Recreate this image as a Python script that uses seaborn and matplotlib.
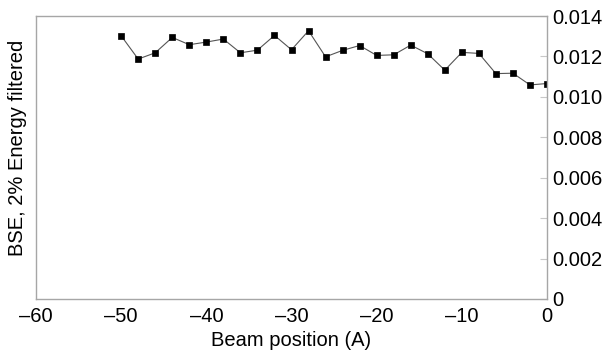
import numpy as np
import pandas as pd
import matplotlib
matplotlib.use("Agg")
import matplotlib.pyplot as plt
import seaborn as sns

# beam positions (A) and filtered BSE signal
positions = [-50, -48, -46, -44, -42, -40, -38, -36, -34, -32, -30, -28, -26,
             -24, -22, -20, -18, -16, -14, -12, -10, -8, -6, -4, -2, 0]
bse = [0.01302, 0.01187, 0.01218, 0.01294, 0.01258, 0.01271, 0.01286,
       0.01218, 0.01231, 0.01304, 0.01233, 0.01327, 0.01198, 0.01230,
       0.01254, 0.01205, 0.01208, 0.01256, 0.01213, 0.01132, 0.01220,
       0.01215, 0.01115, 0.01117, 0.01059, 0.01066]
x_ticks = [-60, -50, -40, -30, -20, -10, 0]
y_ticks = [0, 0.002, 0.004, 0.006, 0.008, 0.010, 0.012, 0.014]
y_labels = ["0", "0.002", "0.004", "0.006", "0.008", "0.010", "0.012", "0.014"]

df = pd.DataFrame({"pos": positions, "bse": bse})

sns.set_style("white")
plt.rcParams["font.family"] = ["Liberation Sans", "DejaVu Sans"]
plt.rcParams["text.color"] = "black"
plt.rcParams["axes.labelcolor"] = "black"
plt.rcParams["xtick.color"] = "black"
plt.rcParams["ytick.color"] = "black"

fig = plt.figure(figsize=(6.03, 3.54), dpi=100)
ax = fig.add_axes([36 / 603, 1 - 299 / 354, (547 - 36) / 603, (299 - 16) / 354])

sns.lineplot(data=df, x="pos", y="bse", ax=ax, color="#555555", linewidth=0.8,
             marker="s", markersize=3.8, markerfacecolor="black",
             markeredgecolor="black", markeredgewidth=0.5)

ax.set_xlim(-60, 0)
ax.set_ylim(0, 0.014)
ax.set_xticks(x_ticks)
ax.set_xticklabels(["\u2013" + str(-v) if v < 0 else str(v) for v in x_ticks])
ax.set_yticks(y_ticks)
ax.set_yticklabels(y_labels)

ax.yaxis.tick_right()
ax.tick_params(axis="y", direction="in", length=5, color="#c8c8c8", width=0.8,
               labelsize=14.5, labelcolor="black", pad=4, right=True, left=False)
ax.tick_params(axis="x", length=0, labelsize=14.5, labelcolor="black", pad=6)

for s in ax.spines.values():
    s.set_color("#a6a6a6")
    s.set_linewidth(1.0)

ax.set_xlabel("Beam position (A)", fontsize=14.5, labelpad=3, color="black")
ax.set_ylabel("")
fig.text(18 / 603, 1 - 148 / 354, "BSE, 2% Energy filtered", rotation=90,
         ha="center", va="center", fontsize=14.5, color="black")

fig.savefig("out.png", dpi=100)
